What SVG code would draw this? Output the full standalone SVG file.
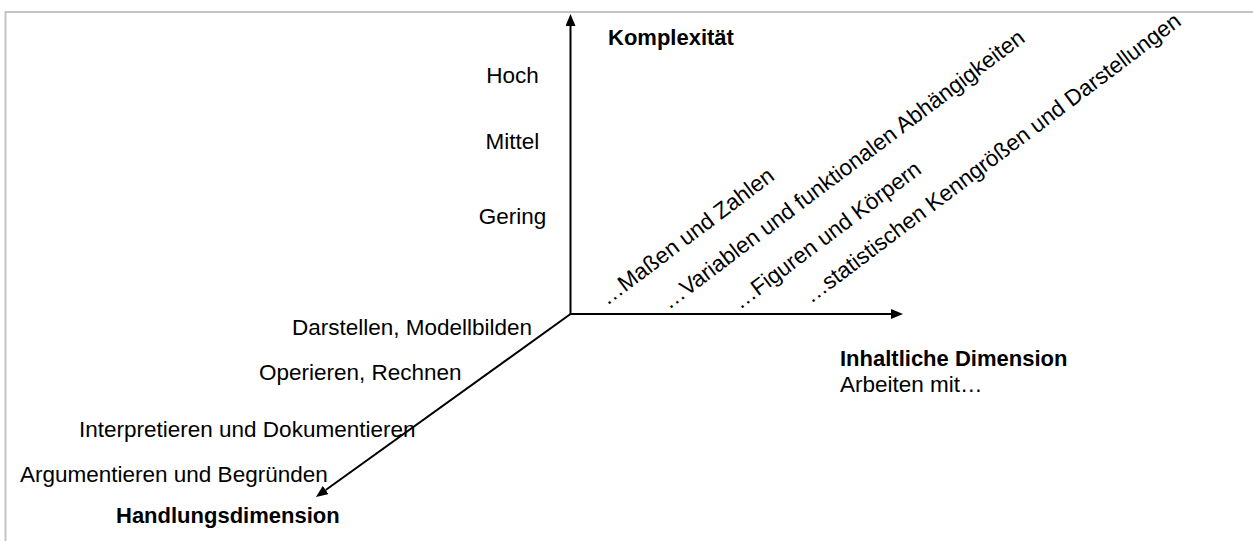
<svg xmlns="http://www.w3.org/2000/svg" width="1253" height="541" viewBox="0 0 1253 541">
  <style>
    .t { font-family: "Liberation Sans", Arial, sans-serif; font-size: 22.5px; fill: #000; }
    .b { font-weight: bold; font-size: 22px; }
    .c { text-anchor: middle; }
    .axis { stroke: #000; stroke-width: 2; fill: none; }
    .frame { stroke: #c4c4c4; stroke-width: 2; fill: none; }
  </style>
  <defs>
    <marker id="arrow" markerUnits="userSpaceOnUse" markerWidth="12" markerHeight="10" viewBox="0 0 12 10" refX="0" refY="5" orient="auto">
      <path d="M0,0 L12,5 L0,10 z" fill="#000"/>
    </marker>
  </defs>
  <rect width="1253" height="541" fill="#fff"/>
  <path class="frame" d="M5.5,541 L5.5,12 L1253,12"/>

  <g id="connectors">
    <line class="axis" x1="570.5" y1="314" x2="570.5" y2="26" marker-end="url(#arrow)"/>
    <line class="axis" x1="570.5" y1="314" x2="891" y2="314" marker-end="url(#arrow)"/>
    <line class="axis" x1="570.5" y1="314" x2="325.7" y2="490" marker-end="url(#arrow)"/>
  </g>

  <g id="komplexitaet"><text class="t b" x="608" y="45">Komplexität</text></g>
  <g id="hoch"><text class="t c" x="512.5" y="83">Hoch</text></g>
  <g id="mittel"><text class="t c" x="512.5" y="149">Mittel</text></g>
  <g id="gering"><text class="t c" x="512.5" y="224">Gering</text></g>

  <g id="inhalt-massen"><text class="t" x="607" y="306" transform="rotate(-37 607 306)">…Maßen und Zahlen</text></g>
  <g id="inhalt-variablen"><text class="t" x="669" y="310" transform="rotate(-37 669 310)">…Variablen und funktionalen Abhängigkeiten</text></g>
  <g id="inhalt-figuren"><text class="t" x="740" y="310" transform="rotate(-37 740 310)">…Figuren und Körpern</text></g>
  <g id="inhalt-statistik"><text class="t" x="811" y="304" transform="rotate(-37 811 304)">…statistischen Kenngrößen und Darstellungen</text></g>

  <g id="inhaltliche-dimension">
    <text class="t b" x="840" y="366">Inhaltliche Dimension</text>
    <text class="t" x="840" y="392">Arbeiten mit…</text>
  </g>

  <g id="darstellen"><text class="t" x="292" y="335">Darstellen, Modellbilden</text></g>
  <g id="operieren"><text class="t" x="259" y="380">Operieren, Rechnen</text></g>
  <g id="interpretieren"><text class="t" x="79" y="437">Interpretieren und Dokumentieren</text></g>
  <g id="argumentieren"><text class="t" x="20" y="482">Argumentieren und Begründen</text></g>
  <g id="handlungsdimension"><text class="t b" x="116" y="523">Handlungsdimension</text></g>
</svg>
